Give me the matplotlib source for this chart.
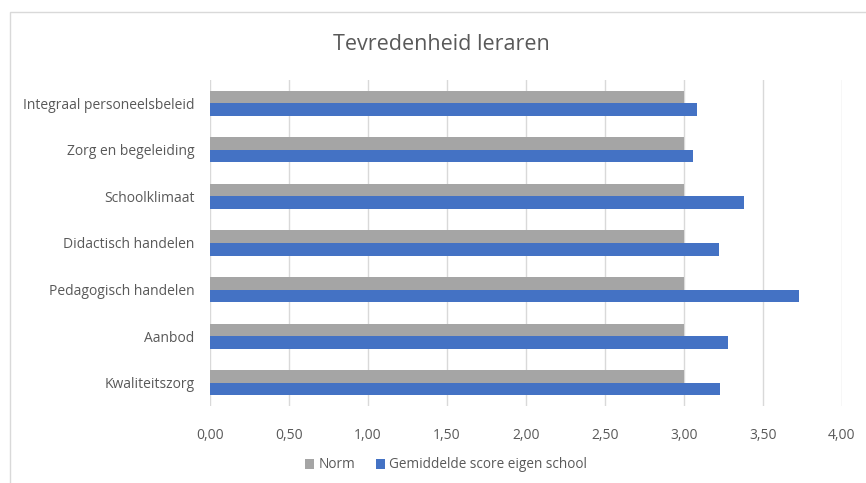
"""
    Tevredenheid leraren - horizontale staafgrafiek
"""
from matplotlib import pyplot as plt
from matplotlib.patches import Rectangle
import numpy as np

# data (onderaan beginnen, zoals in Excel)
categorieen = ['Kwaliteitszorg', 'Aanbod', 'Pedagogisch handelen',
               'Didactisch handelen', 'Schoolklimaat', 'Zorg en begeleiding',
               'Integraal personeelsbeleid']
norm = [3.00, 3.00, 3.00, 3.00, 3.00, 3.00, 3.00]
eigen_school = [3.23, 3.28, 3.73, 3.22, 3.38, 3.06, 3.08]
x_ticks = [0, 0.5, 1.0, 1.5, 2.0, 2.5, 3.0, 3.5, 4.0]

plt.rcParams['font.family'] = ['Open Sans', 'DejaVu Sans']

fig = plt.figure(figsize=(8.66, 4.83), dpi=100)
# rand om de grafiek
fig.patches.append(Rectangle((10 / 866, -0.1), 1.1, 1 - 12 / 483 + 0.1,
                             transform=fig.transFigure, fill=False,
                             edgecolor='#D9D9D9', linewidth=1))

ax = fig.add_axes([210 / 866, 1 - 406 / 483, 632 / 866, 326 / 483])

y = np.arange(len(categorieen))
h = 0.27
ax.barh(y + h / 2, norm, height=h, color='#A5A5A5', label='Norm', zorder=3)
ax.barh(y - h / 2, eigen_school, height=h, color='#4472C4',
        label='Gemiddelde score eigen school', zorder=3)

ax.set_xlim(0, 4)
ax.set_ylim(-0.5, len(categorieen) - 0.5)
ax.set_xticks(x_ticks)
ax.set_xticklabels([f'{v:.2f}'.replace('.', ',') for v in x_ticks])
ax.set_yticks(y)
ax.set_yticklabels(categorieen)
ax.tick_params(axis='both', length=0, colors='#595959', labelsize=10)
ax.tick_params(axis='y', pad=11)
ax.tick_params(axis='x', pad=16)

# grid
ax.grid(True, axis='x', color='#D9D9D9', linewidth=1, zorder=0)
for s in ax.spines.values():
    s.set_visible(False)

# titel
fig.text(441 / 866, 1 - 45 / 483, 'Tevredenheid leraren', ha='center',
         va='center', fontsize=15.5, color='#595959')

# legenda
fig.legend(loc='center', bbox_to_anchor=(446 / 866, 1 - 465 / 483), ncol=2,
           frameon=False, fontsize=9.8, labelcolor='#595959', handlelength=0.7,
           handleheight=0.7, handletextpad=0.3, columnspacing=1.5)

plt.savefig('out.png', dpi=100)
